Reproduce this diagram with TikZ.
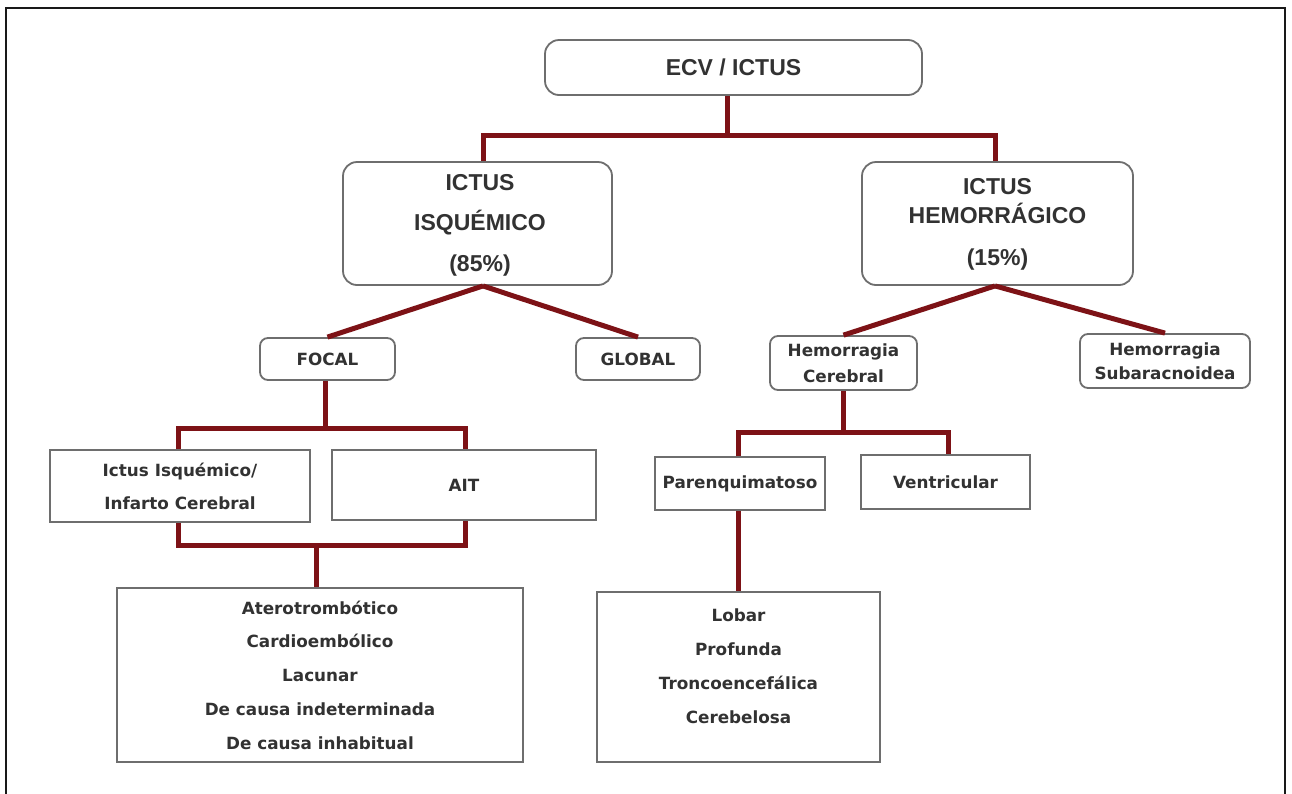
\documentclass[tikz,border=0pt]{standalone}
\usepackage{fontspec}
\setmainfont{Liberation Sans}
\newfontfamily\vfont{DejaVu Sans}
\definecolor{linered}{RGB}{125,18,22}
\definecolor{boxgray}{RGB}{110,110,110}
\definecolor{txtgray}{RGB}{50,50,50}
\begin{document}
\begin{tikzpicture}[x=1pt,y=-1pt,
  rbox/.style={draw=boxgray,line width=1.8pt,rounded corners=14pt,fill=white,inner sep=0pt,align=center,text=txtgray},
  srbox/.style={draw=boxgray,line width=1.8pt,rounded corners=8pt,fill=white,inner sep=0pt,align=center,text=txtgray},
  sbox/.style={draw=boxgray,line width=1.8pt,fill=white,inner sep=0pt,align=center,text=txtgray},
  txt/.style={inner sep=0pt,align=center,text=txtgray},
  bigfont/.style={font=\fontsize{23}{29}\selectfont\bfseries},
  smallfont/.style={font=\vfont\fontsize{16.8}{33}\selectfont\bfseries},
  conn/.style={draw=linered,line width=5pt,line join=miter}]
\useasboundingbox (0,0) rectangle (1292,793);
\fill[white] (0,0) rectangle (1292,793);
% frame
\draw[line width=2.8pt,black!90] (6,800) -- (6,8) -- (1285,8) -- (1285,800);

% junctions
\coordinate (j1) at (727,135);
\coordinate (j2) at (325,428);
\coordinate (j3) at (316,545);
\coordinate (j4) at (843,432);

% boxes
\node[rbox,bigfont,minimum width=377pt,minimum height=55pt] (ecv) at (733.5,67.5) {ECV / ICTUS};
\node[rbox,minimum width=269pt,minimum height=123pt] (isq) at (477.5,223.5) {};
\node[txt,bigfont] (isqt) at (480,225.5) {ICTUS\\[11pt]ISQUÉMICO\\[12pt](85\%)};
\node[rbox,minimum width=271pt,minimum height=123pt] (hem) at (997.5,223.5) {};
\node[txt,bigfont] (hemt) at (997.5,224.5) {ICTUS\\HEMORRÁGICO\\[13pt](15\%)};

\node[srbox,smallfont,minimum width=135pt,minimum height=42pt] (focal) at (327.5,359) {FOCAL};
\node[srbox,smallfont,minimum width=124pt,minimum height=42pt] (global) at (638,359) {GLOBAL};
\node[srbox,font=\vfont\fontsize{16.8}{26}\selectfont\bfseries,minimum width=147pt,minimum height=54pt] (hc) at (843.5,363) {Hemorragia\\Cerebral};
\node[srbox,font=\vfont\fontsize{16.8}{24}\selectfont\bfseries,minimum width=170pt,minimum height=54pt] (hs) at (1165,361) {Hemorragia\\Subaracnoidea};

\node[sbox,smallfont,minimum width=260pt,minimum height=72pt] (iic) at (180,486) {Ictus Isquémico/\\Infarto Cerebral};
\node[sbox,smallfont,minimum width=264pt,minimum height=70pt] (ait) at (464,485) {AIT};
\node[sbox,font=\vfont\fontsize{16.8}{33.7}\selectfont\bfseries,minimum width=406pt,minimum height=174pt] (types) at (320,675) {Aterotrombótico\\Cardioembólico\\Lacunar\\De causa indeterminada\\De causa inhabitual};

\node[sbox,smallfont,minimum width=170pt,minimum height=53pt] (par) at (740,483.5) {Parenquimatoso};
\node[sbox,smallfont,minimum width=169pt,minimum height=54pt] (ven) at (945.5,482) {Ventricular};
\node[sbox,minimum width=283pt,minimum height=170pt] (loc) at (738.5,677) {};
\node[txt,font=\vfont\fontsize{16.8}{34}\selectfont\bfseries] (loctext) at (738.5,666) {Lobar\\Profunda\\Troncoencefálica\\Cerebelosa};

% connectors
\draw[conn] (ecv.south -| j1) -- (j1);
\draw[conn] (isq.north -| 483,0) -- (483,135) -- (995,135) -- (hem.north -| 995,0);
\draw[conn] (isq.south -| 483,0) -- (focal.north);
\draw[conn] (isq.south -| 483,0) -- (global.north);
\draw[conn] (hem.south -| 995,0) -- (hc.north);
\draw[conn] (hem.south -| 995,0) -- (hs.north);
\draw[conn] (focal.south -| j2) -- (j2);
\draw[conn] (iic.north -| 178,0) -- (178,428) -- (465,428) -- (ait.north -| 465,0);
\draw[conn] (iic.south -| 178,0) -- (178,545) -- (465,545) -- (ait.south -| 465,0);
\draw[conn] (j3) -- (types.north -| j3);
\draw[conn] (hc.south -| j4) -- (j4);
\draw[conn] (par.north -| 738,0) -- (738,432) -- (948,432) -- (ven.north -| 948,0);
\draw[conn] (par.south -| 738,0) -- (loc.north -| 738,0);
\end{tikzpicture}
\end{document}
